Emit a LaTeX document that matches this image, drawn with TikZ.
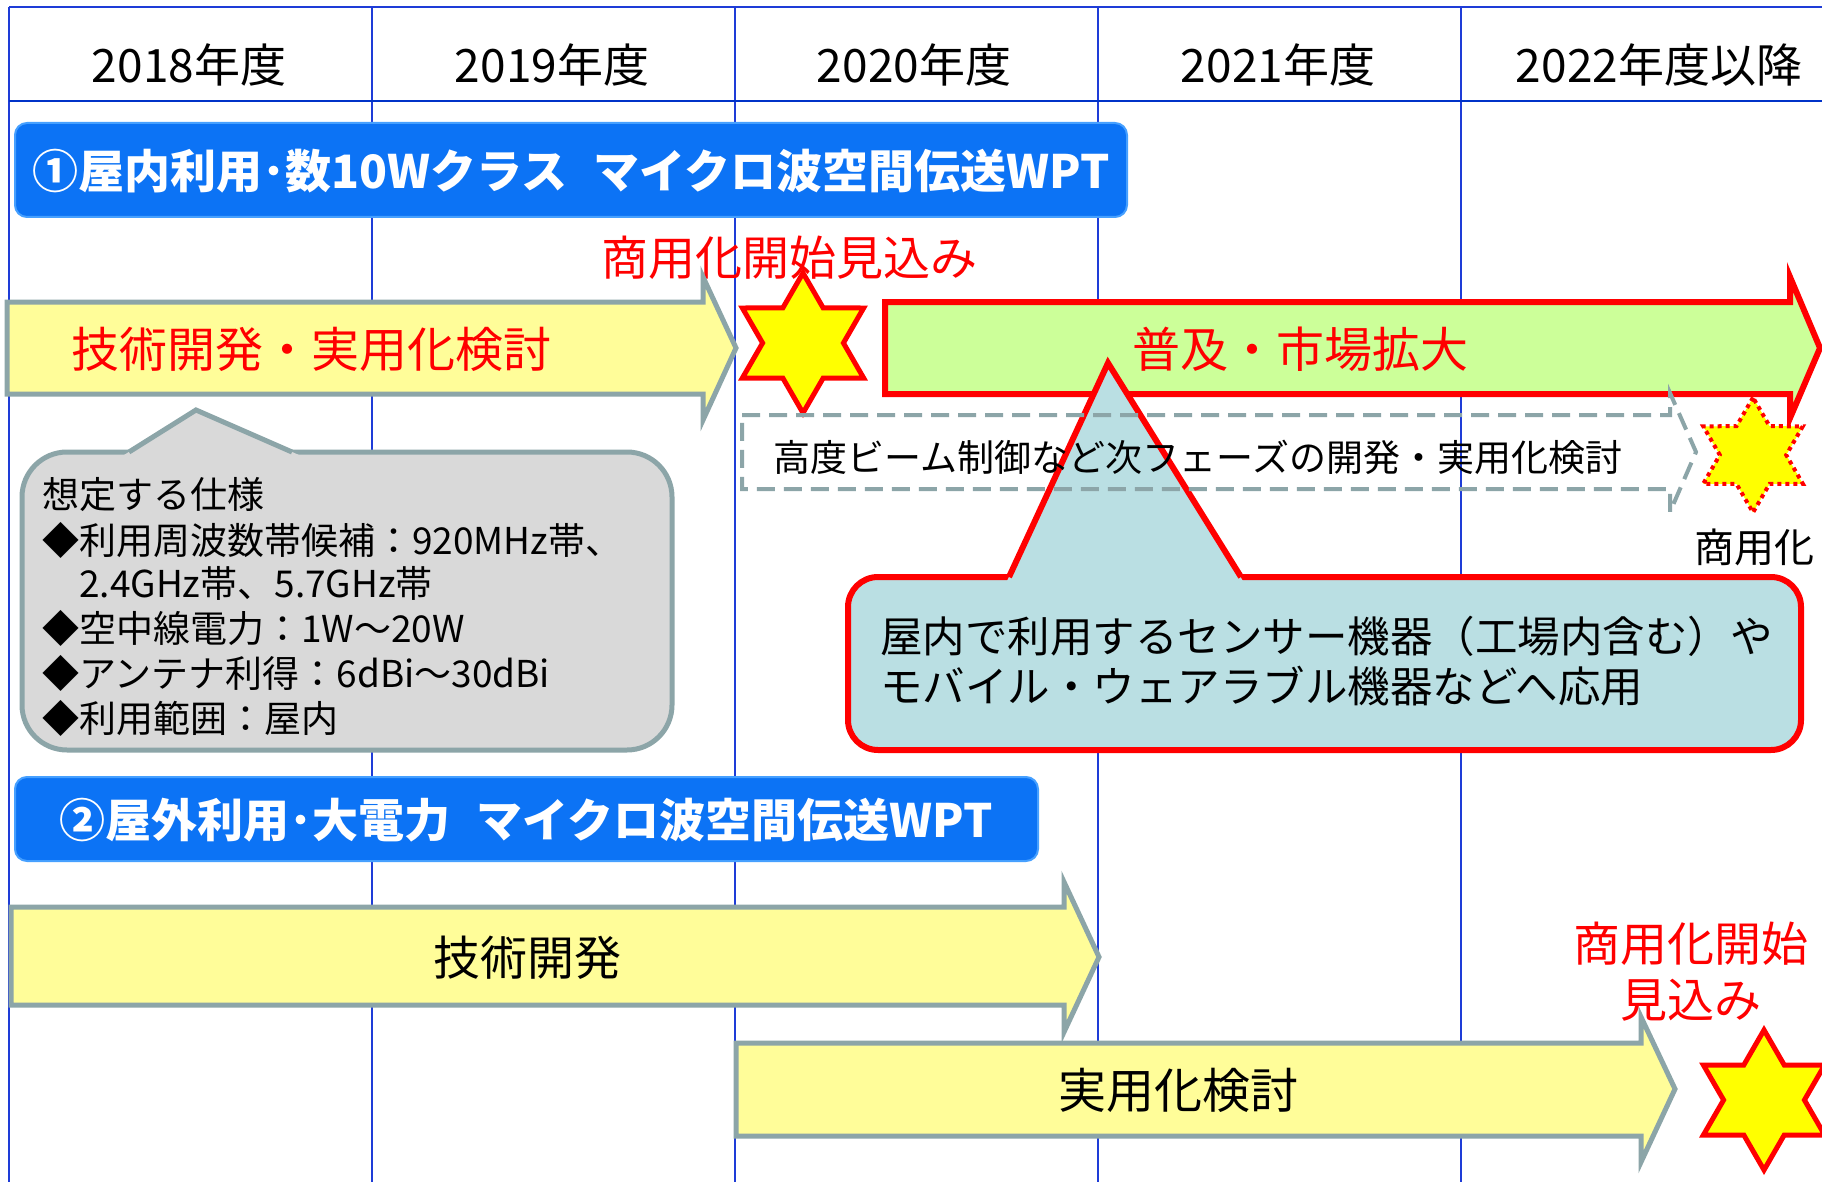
\documentclass[tikz,border=0pt]{standalone}
\usepackage{fontspec}
\setmainfont{Noto Sans CJK JP}
\usetikzlibrary{shapes.geometric}
\definecolor{gridblue}{RGB}{30,60,215}
\definecolor{headblue}{RGB}{0,50,200}
\definecolor{bannerfill}{RGB}{12,115,245}
\definecolor{banneredge}{RGB}{70,160,255}
\definecolor{arrowgray}{RGB}{140,165,168}
\definecolor{paleyellow}{RGB}{255,253,153}
\definecolor{palegreen}{RGB}{204,255,153}
\definecolor{calloutblue}{RGB}{186,223,227}
\definecolor{calloutgray}{RGB}{217,217,217}
\definecolor{starred}{RGB}{255,0,0}
\definecolor{staryellow}{RGB}{255,255,0}
\newcommand\fsz[1]{\fontsize{#1}{#1}\selectfont}
\begin{document}
\begin{tikzpicture}[x=1pt,y=-1pt,
  gridline/.style={draw=gridblue, line width=1.3pt},
  banner/.style={fill=bannerfill, draw=banneredge, line width=2pt, rounded corners=12pt},
  bannertext/.style={text=white, font={\fsz{46}\bfseries}, inner sep=0pt},
  yarrow/.style={fill=paleyellow, draw=arrowgray, line width=5pt, line join=miter},
  garrow/.style={fill=palegreen, draw=starred, line width=6pt, line join=miter},
  dasharrow/.style={draw=arrowgray, line width=4pt, dash pattern=on 18pt off 9pt},
  hexstar/.style={star, star points=6, star point ratio=1.732, inner sep=0pt, fill=staryellow, draw=starred, line width=5pt},
  headtext/.style={font=\fsz{46}, inner sep=0pt},
  redtext/.style={text=starred, inner sep=0pt},
  plain/.style={inner sep=0pt}]
\useasboundingbox (0,0) rectangle (1822,1182);
\clip (0,0) rectangle (1822,1182);
\fill[white] (0,0) rectangle (1822,1182);
% grid
\foreach \gx in {9,372,735,1098,1461} \draw[gridline] (\gx,7) -- (\gx,1182);
\draw[gridline] (9,7) -- (1822,7);
\draw[draw=headblue, line width=2.5pt] (9,101) -- (1822,101);
% header
\node[headtext] (h18) at (189,65) {2018年度};
\node[headtext] (h19) at (552,65) {2019年度};
\node[headtext] (h20) at (914,65) {2020年度};
\node[headtext] (h21) at (1278,65) {2021年度};
\node[headtext] (h22) at (1659,65) {2022年度以降};
% banner 1
\path[banner] (15,123) rectangle (1127,217);
\node[bannertext] (b1) at (571,171) {①屋内利用･数10Wクラス\hspace{26pt}マイクロ波空間伝送WPT};
% launch label
\node[redtext, font=\fsz{47}] (launch1) at (789,258) {商用化開始見込み};
% arrow 1
\path[yarrow] (7,302) -- (703,302) -- (703,277) -- (736,348) -- (703,420) -- (703,394) -- (7,394) -- cycle;
\node[redtext, font=\fsz{48}] (a1) at (311,349) {技術開発・実用化検討};
% star 1
\node[hexstar, minimum size=140pt] (s1) at (803,343) {};
% green arrow
\path[garrow] (885,302) -- (1790,302) -- (1790,277) -- (1820,348) -- (1790,418) -- (1790,394) -- (885,394) -- cycle;
\node[redtext, font=\fsz{48}] (a2) at (1300,349) {普及・市場拡大};
% blue callout
\path[fill=calloutblue, draw=starred, line width=6pt, rounded corners=30pt] (848,577) rectangle (1801,750);
\fill[calloutblue] (1007,581) -- (1108,363) -- (1243,581) -- cycle;
\draw[starred, line width=6pt, line join=miter] (1009,577) -- (1108,363) -- (1241,577);
\node[plain, anchor=west, font=\fsz{42.5}] (cb1) at (880,636) {屋内で利用するセンサー機器（工場内含む）や};
\node[plain, anchor=west, font=\fsz{42.5}] (cb2) at (880,686) {モバイル・ウェアラブル機器などへ応用};
% dashed arrow
\path[dasharrow] (742,415) -- (1670,415) -- (1670,393) -- (1696,452) -- (1670,512) -- (1670,489) -- (742,489) -- cycle;
\node[plain, font=\fsz{37}] (a3) at (1198,457) {高度ビーム制御など次フェーズの開発・実用化検討};
% dotted star
\node[hexstar, minimum size=115pt, line width=4pt, dash pattern=on 4pt off 4pt] (s2) at (1753,455) {};
\node[plain, font=\fsz{40}] (s2t) at (1754,547) {商用化};
% gray callout
\path[fill=calloutgray, draw=arrowgray, line width=5pt, rounded corners=45pt] (22,452) rectangle (672,750);
\fill[calloutgray] (124,455) -- (196,410) -- (299,455) -- cycle;
\draw[arrowgray, line width=5pt, line join=miter] (129,452) -- (196,410) -- (292,452);
\node[plain, anchor=west, font=\fsz{37}] (g1) at (42,495) {想定する仕様};
\node[plain, anchor=west, font=\fsz{37}] (g2) at (42,540) {◆利用周波数帯候補：920MHz帯、};
\node[plain, anchor=west, font=\fsz{37}] (g3) at (42,583) {　2.4GHz帯、5.7GHz帯};
\node[plain, anchor=west, font=\fsz{37}] (g4) at (42,628) {◆空中線電力：1W～20W};
\node[plain, anchor=west, font=\fsz{37}] (g5) at (42,673) {◆アンテナ利得：6dBi～30dBi};
\node[plain, anchor=west, font=\fsz{37}] (g6) at (42,718) {◆利用範囲：屋内};
% banner 2
\path[banner] (15,777) rectangle (1038,861);
\node[bannertext] (b2) at (526,820) {②屋外利用･大電力\hspace{26pt}マイクロ波空間伝送WPT};
% arrow tech dev
\path[yarrow] (11,907) -- (1064,907) -- (1064,882) -- (1099,957) -- (1064,1032) -- (1064,1005) -- (11,1005) -- cycle;
\node[plain, font=\fsz{47}] (a4) at (527,958) {技術開発};
% arrow practical study
\path[yarrow] (736,1043) -- (1641,1043) -- (1641,1017) -- (1675,1089) -- (1641,1162) -- (1641,1136) -- (736,1136) -- cycle;
\node[plain, font=\fsz{48}] (a5) at (1178,1090) {実用化検討};
% star 3
\node[hexstar, minimum size=140pt] (s3) at (1764,1100) {};
\node[redtext, font=\fsz{47}] (launch2a) at (1691,944) {商用化開始};
\node[redtext, font=\fsz{47}] (launch2b) at (1691,1000) {見込み};
\end{tikzpicture}
\end{document}
